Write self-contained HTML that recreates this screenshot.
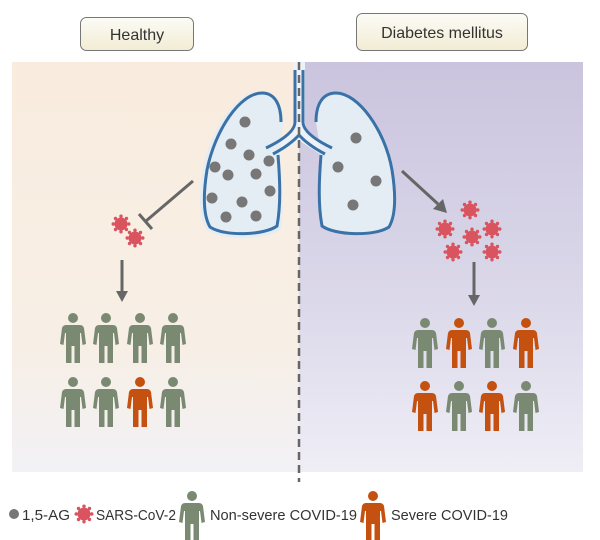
<!DOCTYPE html>
<html><head><meta charset="utf-8"><style>
body{margin:0;background:#fff;}
svg{display:block;font-family:"Liberation Sans",sans-serif;}
</style></head><body>
<svg width="600" height="540" viewBox="0 0 600 540">
<defs>
<linearGradient id="gl" x1="0" y1="0" x2="0" y2="1"><stop offset="0" stop-color="#f9ecde"/><stop offset="0.7" stop-color="#f7efe6"/><stop offset="1" stop-color="#f2f1f6"/></linearGradient>
<linearGradient id="gr" x1="0" y1="0" x2="0" y2="1"><stop offset="0" stop-color="#cac4de"/><stop offset="0.6" stop-color="#dcd9ea"/><stop offset="1" stop-color="#efeef6"/></linearGradient>
<linearGradient id="gb" x1="0" y1="0" x2="0" y2="1"><stop offset="0" stop-color="#fcfbf6"/><stop offset="1" stop-color="#f2ecd4"/></linearGradient>
<g id="vir" fill="#d9545f">
<circle r="6.5"/>
<circle cx="7.8" cy="0" r="1.7"/><circle cx="-7.8" cy="0" r="1.7"/><circle cx="0" cy="7.8" r="1.7"/><circle cx="0" cy="-7.8" r="1.7"/>
<circle cx="5.5" cy="5.5" r="1.7"/><circle cx="-5.5" cy="5.5" r="1.7"/><circle cx="5.5" cy="-5.5" r="1.7"/><circle cx="-5.5" cy="-5.5" r="1.7"/>
</g>
<g id="p">
<circle cx="0" cy="5" r="5"/>
<path d="M-7,12 L7,12 Q10,12 11,15 L13,31 L9.5,32 L8,20 L7,20 L7,50 L1.5,50 L1.5,33 L-1.5,33 L-1.5,50 L-7,50 L-7,20 L-8,20 L-9.5,32 L-13,31 L-11,15 Q-10,12 -7,12 Z"/>
</g>
</defs>
<rect x="12" y="62" width="287" height="410" fill="url(#gl)"/>
<rect x="299" y="62" width="284" height="410" fill="url(#gr)"/>
<rect x="80.5" y="17.5" width="113" height="33" rx="6" fill="url(#gb)" stroke="#777"/>
<text x="137" y="40" text-anchor="middle" font-size="16" fill="#333">Healthy</text>
<rect x="356.5" y="13.5" width="171" height="37" rx="6" fill="url(#gb)" stroke="#777"/>
<text x="442" y="38" text-anchor="middle" font-size="16" fill="#333">Diabetes mellitus</text>
<path d="M293,62 L293,122 Q293,135 268,150 L275,156 Q297,142 299,140 Q301,142 323,156 L330,150 Q305,135 305,122 L305,62 Z" fill="#eef2f7"/>
<path d="M283,122 C283,105 276,91 260,91 C238,91 210,128 203,168 C198,195 199,218 207,230 C225,242 268,240 281,229 C284,205 281,175 280,155 Z" fill="#e4ecf4"/>
<path d="M281,122 C281,105 275,93 262,93 C240,93 215,130 207,170 C203,195 203,215 210,227 C225,237 265,235 277,226 C281,205 280,180 278,155" fill="none" stroke="#3a72a8" stroke-width="3"/>
<path d="M316,122 C316,105 322,93 336,93 C358,93 385,130 392,170 C396,195 396,215 389,227 C374,237 334,235 322,226 C318,205 319,180 321,155" fill="#e4ecf4" stroke="#3a72a8" stroke-width="3"/>
<path d="M295,70 L295,122 Q295,134 266,148 M303,70 L303,122 Q303,134 332,148 M299,135 Q290,145 273,154 M299,135 Q308,145 325,154" fill="none" stroke="#3a72a8" stroke-width="3"/>
<g fill="#777">
<circle cx="245" cy="122" r="5.5"/><circle cx="231" cy="144" r="5.5"/><circle cx="249" cy="155" r="5.5"/><circle cx="269" cy="161" r="5.5"/>
<circle cx="215" cy="167" r="5.5"/><circle cx="228" cy="175" r="5.5"/><circle cx="256" cy="174" r="5.5"/><circle cx="270" cy="191" r="5.5"/>
<circle cx="212" cy="198" r="5.5"/><circle cx="242" cy="202" r="5.5"/><circle cx="226" cy="217" r="5.5"/><circle cx="256" cy="216" r="5.5"/>
<circle cx="356" cy="138" r="5.5"/><circle cx="338" cy="167" r="5.5"/><circle cx="376" cy="181" r="5.5"/><circle cx="353" cy="205" r="5.5"/>
</g>
<line x1="299" y1="62" x2="299" y2="482" stroke="#666" stroke-width="2.5" stroke-dasharray="8,5"/>
<g stroke="#666" stroke-width="3" fill="none">
<line x1="193" y1="181" x2="146" y2="221"/>
<line x1="139" y1="214" x2="152" y2="229"/>
<line x1="122" y1="260" x2="122" y2="292"/>
<line x1="474" y1="262" x2="474" y2="296"/>
<line x1="402" y1="171" x2="438" y2="204"/>
</g>
<g fill="#666">
<polygon points="116,291 128,291 122,302"/>
<polygon points="468,295 480,295 474,306"/>
<polygon points="433,209 443,199 447,213"/>
</g>
<use href="#vir" x="121" y="224"/><use href="#vir" x="135" y="238"/>
<use href="#vir" x="470" y="210"/><use href="#vir" x="445" y="229"/><use href="#vir" x="472" y="237"/><use href="#vir" x="492" y="229"/><use href="#vir" x="453" y="252"/><use href="#vir" x="492" y="252"/>
<g fill="#7a8a72">
<use href="#p" x="73" y="313"/><use href="#p" x="106" y="313"/><use href="#p" x="140" y="313"/><use href="#p" x="173" y="313"/>
<use href="#p" x="73" y="377"/><use href="#p" x="106" y="377"/><use href="#p" x="173" y="377"/>
<use href="#p" x="425" y="318"/><use href="#p" x="492" y="318"/>
<use href="#p" x="459" y="381"/><use href="#p" x="526" y="381"/>
<use href="#p" x="192" y="491"/>
</g>
<g fill="#c4510f">
<use href="#p" x="140" y="377"/>
<use href="#p" x="459" y="318"/><use href="#p" x="526" y="318"/>
<use href="#p" x="425" y="381"/><use href="#p" x="492" y="381"/>
<use href="#p" x="373" y="491"/>
</g>
<circle cx="14" cy="514" r="5" fill="#777"/>
<text x="22" y="520" font-size="15" fill="#333" textLength="48" lengthAdjust="spacingAndGlyphs">1,5-AG</text>
<use href="#vir" x="84" y="514"/>
<text x="96" y="520" font-size="15" fill="#333" textLength="80" lengthAdjust="spacingAndGlyphs">SARS-CoV-2</text>
<text x="210" y="520" font-size="15" fill="#333" textLength="147" lengthAdjust="spacingAndGlyphs">Non-severe COVID-19</text>
<text x="391" y="520" font-size="15" fill="#333" textLength="117" lengthAdjust="spacingAndGlyphs">Severe COVID-19</text>
</svg>
</body></html>
